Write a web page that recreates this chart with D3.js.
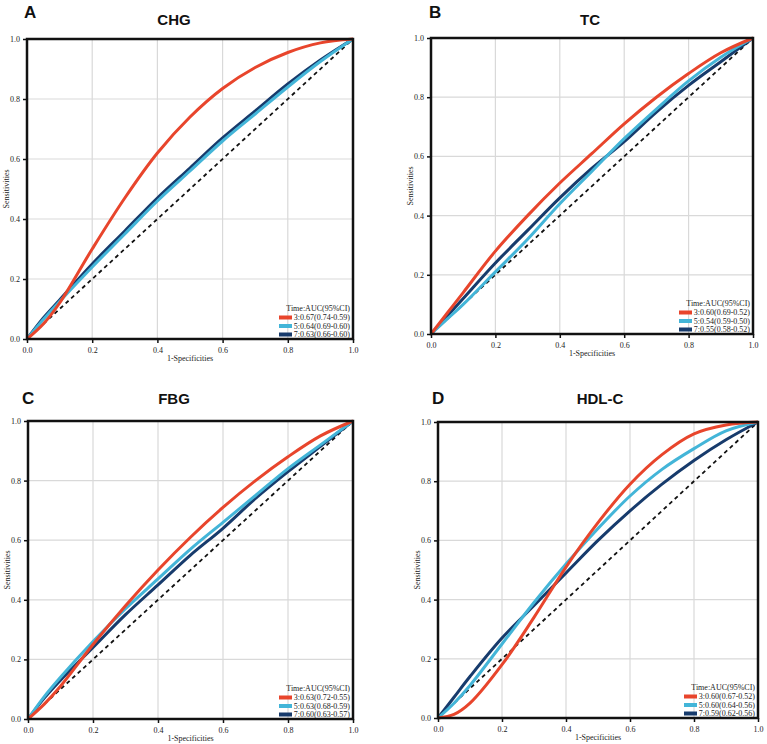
<!DOCTYPE html>
<html>
<head>
<meta charset="utf-8">
<script src="https://cdn.jsdelivr.net/npm/d3@7"></script>
<style>
  body { margin: 0; background: #fff; }
  svg text { fill: #222; }
</style>
</head>
<body>
<div id="chart"></div>
<script>
const width = 767;
const height = 744;

// false positive rate grid shared by every curve
const fpr = [0, 0.05, 0.1, 0.2, 0.3, 0.4, 0.5, 0.6, 0.7, 0.8, 0.9, 1];

const seriesColors = ['#e8452c', '#43b5d8', '#173b6c'];
const ticks = [0, 0.2, 0.4, 0.6, 0.8, 1.0];

// CHG
const chgTpr = [
  [0, 0.05, 0.12, 0.30, 0.47, 0.62, 0.74, 0.835, 0.905, 0.955, 0.987, 1],
  [0, 0.065, 0.125, 0.24, 0.35, 0.46, 0.56, 0.66, 0.75, 0.84, 0.925, 1],
  [0, 0.07, 0.13, 0.25, 0.36, 0.47, 0.57, 0.67, 0.76, 0.85, 0.93, 1]
];
const chgLabels = ['3:0.67(0.74-0.59)', '5:0.64(0.69-0.60)', '7:0.63(0.66-0.60)'];

// TC
const tcTpr = [
  [0, 0.07, 0.14, 0.28, 0.40, 0.51, 0.61, 0.71, 0.80, 0.88, 0.95, 1],
  [0, 0.05, 0.10, 0.21, 0.32, 0.44, 0.55, 0.66, 0.76, 0.855, 0.935, 1],
  [0, 0.06, 0.12, 0.24, 0.35, 0.46, 0.56, 0.65, 0.75, 0.84, 0.92, 1]
];
const tcLabels = ['3:0.60(0.69-0.52)', '5:0.54(0.59-0.50)', '7:0.55(0.58-0.52)'];

// FBG
const fbgTpr = [
  [0, 0.05, 0.11, 0.25, 0.38, 0.50, 0.61, 0.71, 0.80, 0.88, 0.95, 1],
  [0, 0.075, 0.14, 0.26, 0.37, 0.47, 0.57, 0.66, 0.75, 0.84, 0.92, 1],
  [0, 0.07, 0.13, 0.24, 0.35, 0.45, 0.55, 0.64, 0.74, 0.83, 0.915, 1]
];
const fbgLabels = ['3:0.63(0.72-0.55)', '5:0.63(0.68-0.59)', '7:0.60(0.63-0.57)'];

// HDL-C
const hdlTpr = [
  [0, 0.012, 0.05, 0.18, 0.34, 0.51, 0.66, 0.79, 0.89, 0.96, 0.99, 1],
  [0, 0.05, 0.11, 0.25, 0.39, 0.52, 0.64, 0.75, 0.84, 0.91, 0.97, 1],
  [0, 0.07, 0.14, 0.27, 0.38, 0.49, 0.60, 0.70, 0.79, 0.87, 0.94, 1]
];
const hdlLabels = ['3:0.60(0.67-0.52)', '5:0.60(0.64-0.56)', '7:0.59(0.62-0.56)'];

const panels = [
  {letter: 'A', title: 'CHG', tpr: chgTpr, labels: chgLabels,
    left: 27, top: 39, right: 353, bottom: 339, letterX: 24, letterY: 18, titleX: 174, titleY: 25},
  {letter: 'B', title: 'TC', tpr: tcTpr, labels: tcLabels,
    left: 431, top: 38, right: 753, bottom: 334, letterX: 429, letterY: 18, titleX: 590, titleY: 25},
  {letter: 'C', title: 'FBG', tpr: fbgTpr, labels: fbgLabels,
    left: 28, top: 421, right: 353, bottom: 719, letterX: 22, letterY: 404, titleX: 174, titleY: 404},
  {letter: 'D', title: 'HDL-C', tpr: hdlTpr, labels: hdlLabels,
    left: 438, top: 422, right: 758, bottom: 718, letterX: 432, letterY: 404, titleX: 600, titleY: 404}
];

const svg = d3.select('#chart')
  .append('svg')
  .attr('width', width)
  .attr('height', height);

const serif = '"Liberation Serif", "DejaVu Serif", serif';
const sans = '"Liberation Sans", Arial, sans-serif';

panels.forEach(function(p) {
  const x = d3.scaleLinear().domain([0, 1]).range([p.left, p.right]);
  const y = d3.scaleLinear().domain([0, 1]).range([p.bottom, p.top]);
  const g = svg.append('g');

  // panel letter and title
  g.append('text')
    .attr('x', p.letterX).attr('y', p.letterY)
    .attr('font-family', sans).attr('font-weight', 'bold').attr('font-size', 17)
    .style('fill', '#111')
    .text(p.letter);
  g.append('text')
    .attr('x', p.titleX).attr('y', p.titleY)
    .attr('text-anchor', 'middle')
    .attr('font-family', sans).attr('font-weight', 'bold').attr('font-size', 15)
    .style('fill', '#111')
    .text(p.title);

  // grid
  const grid = [0.2, 0.4, 0.6, 0.8];
  g.selectAll('.vgrid').data(grid).enter().append('line')
    .attr('x1', d => x(d)).attr('x2', d => x(d))
    .attr('y1', p.top).attr('y2', p.bottom)
    .attr('stroke', '#d9d9d9').attr('stroke-width', 1.2);
  g.selectAll('.hgrid').data(grid).enter().append('line')
    .attr('y1', d => y(d)).attr('y2', d => y(d))
    .attr('x1', p.left).attr('x2', p.right)
    .attr('stroke', '#d9d9d9').attr('stroke-width', 1.2);

  // reference diagonal
  g.append('line')
    .attr('x1', x(0)).attr('y1', y(0))
    .attr('x2', x(1)).attr('y2', y(1))
    .attr('stroke', '#111').attr('stroke-width', 1.8)
    .attr('stroke-dasharray', '4,3.5');

  // ROC curves, drawn in reverse so red is on top where they overlap
  const line = d3.line()
    .x((d, i) => x(fpr[i]))
    .y(d => y(d))
    .curve(d3.curveCatmullRom.alpha(0.5));
  for (let s = 2; s >= 0; s--) {
    g.append('path')
      .datum(p.tpr[s])
      .attr('d', line)
      .attr('fill', 'none')
      .attr('stroke', seriesColors[s])
      .attr('stroke-width', 3);
  }

  // axes
  const xAxis = d3.axisBottom(x).tickValues(ticks).tickFormat(d3.format('.1f')).tickSize(4).tickSizeOuter(0);
  const yAxis = d3.axisLeft(y).tickValues(ticks).tickFormat(d3.format('.1f')).tickSize(4).tickSizeOuter(0);
  const gx = g.append('g').attr('transform', 'translate(0,' + p.bottom + ')').call(xAxis);
  const gy = g.append('g').attr('transform', 'translate(' + p.left + ',0)').call(yAxis);
  [gx, gy].forEach(function(a) {
    a.select('.domain').remove();
    a.selectAll('.tick line').attr('stroke', '#111').attr('stroke-width', 1.5);
    a.selectAll('.tick text').attr('font-family', serif).attr('font-size', 8).style('fill', '#222');
  });
  gx.selectAll('.tick text').attr('dy', '0.9em');

  // frame
  g.append('rect')
    .attr('x', p.left).attr('y', p.top)
    .attr('width', p.right - p.left).attr('height', p.bottom - p.top)
    .attr('fill', 'none').attr('stroke', '#111').attr('stroke-width', 2.5);

  // axis titles
  g.append('text')
    .attr('x', (p.left + p.right) / 2).attr('y', p.bottom + 22)
    .attr('text-anchor', 'middle')
    .attr('font-family', serif).attr('font-size', 8)
    .text('1-Specificities');
  g.append('text')
    .attr('transform', 'translate(' + (p.left - 18) + ',' + ((p.top + p.bottom) / 2) + ') rotate(-90)')
    .attr('text-anchor', 'middle')
    .attr('font-family', serif).attr('font-size', 8)
    .text('Sensitivities');

  // legend
  const lx = p.right - 3;
  g.append('text')
    .attr('x', lx).attr('y', p.bottom - 28)
    .attr('text-anchor', 'end')
    .attr('font-family', serif).attr('font-size', 8)
    .text('Time:AUC(95%CI)');
  const rows = g.selectAll('.leg').data(p.labels).enter().append('g');
  rows.append('text')
    .attr('x', lx).attr('y', (d, i) => p.bottom - 19 + i * 8.5)
    .attr('text-anchor', 'end')
    .attr('font-family', serif).attr('font-size', 8)
    .text(d => d);
  rows.append('rect')
    .attr('x', lx - 58 - 13).attr('y', (d, i) => p.bottom - 23.5 + i * 8.5)
    .attr('width', 13).attr('height', 4)
    .attr('fill', (d, i) => seriesColors[i]);
});
</script>
</body>
</html>
